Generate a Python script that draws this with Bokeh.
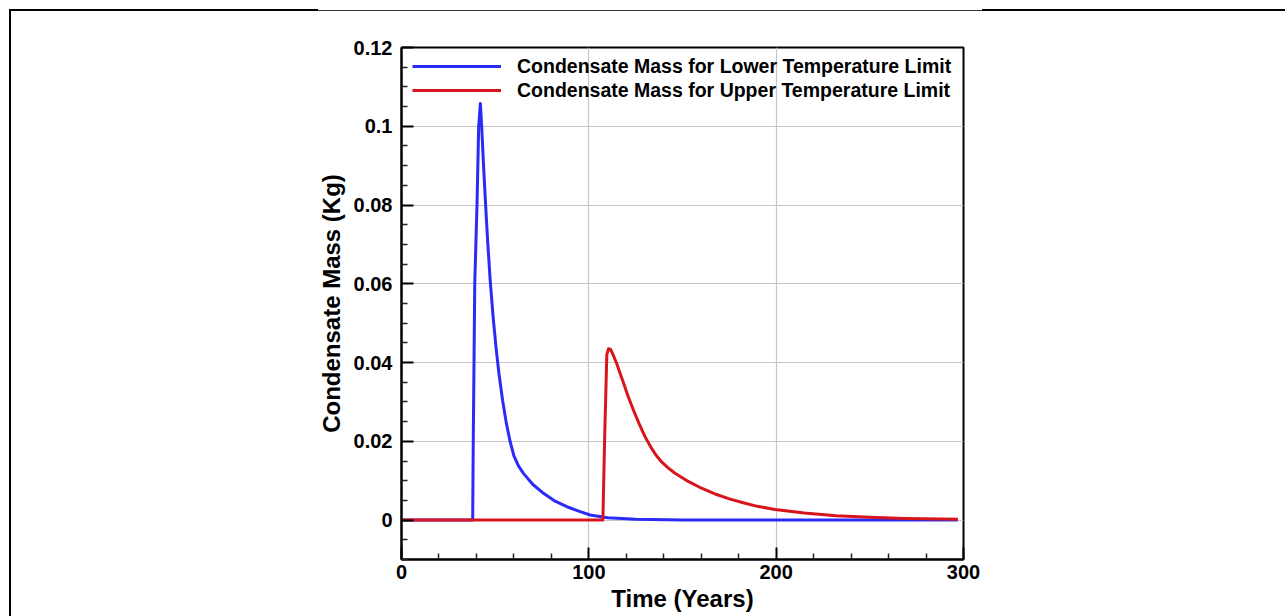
from bokeh.plotting import figure
from bokeh.models import FixedTicker, Legend, LegendItem, Range1d
from bokeh.embed import file_html
from bokeh.resources import INLINE

# ---- data ----
lower_t = [0, 38.0, 38.3, 38.7, 39.1, 40.3, 41.2, 42.1, 42.8, 43.8, 44.9, 46.0, 47.3, 48.9,
           50.5, 52.0, 54.0, 56.0, 58.0, 60.0, 62.5, 65.2, 70.0, 75.8, 82.0, 88.3, 95.0, 100.7,
           110, 125, 150, 297]
lower_v = [0, 0, 0.0199, 0.0398, 0.060, 0.080, 0.100, 0.1058, 0.100, 0.090, 0.080, 0.0707, 0.0612, 0.0516,
           0.0436, 0.0373, 0.0303, 0.0245, 0.0199, 0.0163, 0.0137, 0.0118, 0.0091, 0.0068, 0.0048, 0.0034,
           0.0022, 0.0013, 0.0006, 0.0002, 0.0, 0.0]

upper_t = [0, 107.5, 108.5, 109.6, 110.5, 111.5, 112.5, 115.0, 118.0, 121.0, 124.0, 127.0,
           130.0, 133.0, 136.0, 139.0, 142.0, 146.0, 152.0, 160.2, 168.2, 175.0, 182.4, 190.0,
           199.4, 215.0, 232.0, 250.0, 269.0, 297.0]
upper_v = [0, 0, 0.022, 0.042, 0.0435, 0.0434, 0.0425, 0.0396, 0.0355, 0.0314, 0.0277, 0.0243,
           0.0212, 0.0186, 0.0164, 0.0147, 0.0134, 0.0119, 0.0101, 0.0081, 0.0065, 0.0054, 0.0044, 0.0035,
           0.0027, 0.0018, 0.0011, 0.0007, 0.0004, 0.0002]

series_labels = ["Condensate Mass for Lower Temperature Limit",
                 "Condensate Mass for Upper Temperature Limit"]

x_tick_vals = [0, 100, 200, 300]
x_tick_labels = ["0", "100", "200", "300"]
x_minor_vals = [20, 40, 60, 80, 120, 140, 160, 180, 220, 240, 260, 280]
y_tick_vals = [0, 0.02, 0.04, 0.06, 0.08, 0.1, 0.12]
y_tick_labels = ["0", "0.02", "0.04", "0.06", "0.08", "0.1", "0.12"]
y_minor_vals = [-0.01, -0.005, 0.005, 0.01, 0.015, 0.025, 0.03, 0.035, 0.045, 0.05, 0.055,
                0.065, 0.07, 0.075, 0.085, 0.09, 0.095, 0.105, 0.11, 0.115]

x_title = "Time (Years)"
y_title = "Condensate Mass (Kg)"

FONT = "Liberation Sans"
BLUE = "#2b2bf7"
RED = "#d8141c"

p = figure(width=1285, height=616, output_backend="svg", toolbar_location=None,
           x_range=Range1d(0, 300), y_range=Range1d(-0.01, 0.12),
           min_border_left=401, min_border_right=322, min_border_top=47, min_border_bottom=57)

p.border_fill_color = None
p.background_fill_color = "white"
p.outline_line_color = "black"
p.outline_line_width = 2
p.outline_line_alpha = 1

# outer page frame lines (left edge and top edge)
p.styles = {
    "background-image": "linear-gradient(#000,#000), linear-gradient(#000,#000), "
                        "linear-gradient(#000,#000), linear-gradient(#333,#333)",
    "background-size": "2px 100%, 309px 2px, 303px 2px, 664px 1px",
    "background-position": "9px 9px, 9px 9px, 982px 9px, 318px 10px",
    "background-repeat": "no-repeat",
}

r_lower = p.line(lower_t, lower_v, line_color=BLUE, line_width=3, line_join="round")
r_upper = p.line(upper_t, upper_v, line_color=RED, line_width=3, line_join="round")

xt = FixedTicker(ticks=x_tick_vals, minor_ticks=x_minor_vals)
yt = FixedTicker(ticks=y_tick_vals, minor_ticks=y_minor_vals)
p.xaxis.ticker = xt
p.yaxis.ticker = yt
p.xgrid.ticker = xt
p.ygrid.ticker = yt
p.xaxis.major_label_overrides = {v: s for v, s in zip(x_tick_vals, x_tick_labels)}
p.yaxis.major_label_overrides = {v: s for v, s in zip(y_tick_vals, y_tick_labels)}

for g in (p.xgrid[0], p.ygrid[0]):
    g.grid_line_color = "#c6c6c6"
    g.grid_line_width = 1.2

for ax in (p.xaxis[0], p.yaxis[0]):
    ax.axis_line_width = 2
    ax.axis_line_color = "black"
    ax.major_tick_in = 12
    ax.major_tick_out = 0
    ax.minor_tick_in = 6
    ax.minor_tick_out = 0
    ax.major_tick_line_width = 2
    ax.minor_tick_line_width = 1.5
    ax.major_tick_line_color = "black"
    ax.minor_tick_line_color = "#222222"
    ax.major_label_text_font = FONT
    ax.major_label_text_font_style = "bold"
    ax.major_label_text_font_size = "20px"
    ax.major_label_text_color = "black"
    ax.axis_label_text_font = FONT
    ax.axis_label_text_font_style = "bold"
    ax.axis_label_text_font_size = "24px"
    ax.axis_label_text_color = "black"

p.xaxis.axis_label = x_title
p.yaxis.axis_label = y_title
p.yaxis.major_label_standoff = 9
p.yaxis.axis_label_standoff = 6
p.xaxis.major_label_standoff = 5
p.xaxis.axis_label_standoff = 3

legend = Legend(items=[LegendItem(label=series_labels[0], renderers=[r_lower]),
                       LegendItem(label=series_labels[1], renderers=[r_upper])],
                location=(11, 457))
legend.border_line_color = None
legend.background_fill_alpha = 0
legend.label_text_font = FONT
legend.label_text_font_style = "bold"
legend.label_text_font_size = "19.5px"
legend.label_text_color = "black"
legend.glyph_width = 89
legend.glyph_height = 24
legend.label_height = 24
legend.spacing = 0
legend.padding = 0
legend.margin = 0
legend.label_standoff = 16
p.add_layout(legend)

open("out.html", "w").write(file_html(p, INLINE))
